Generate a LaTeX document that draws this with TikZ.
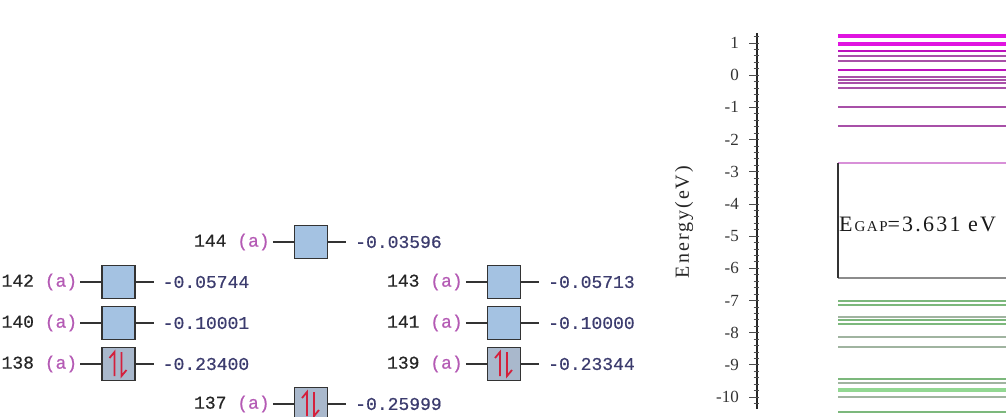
\documentclass[tikz,border=0pt]{standalone}
\usepackage{fontspec}
\setmainfont{Liberation Serif}
\newfontfamily\monof[FakeBold=0.6]{Liberation Mono}
\newfontfamily\serifls[LetterSpace=10]{Liberation Serif}
\usetikzlibrary{calc}
\definecolor{boxfill}{HTML}{A4C2E2}
\definecolor{occfill}{HTML}{A9B8CC}
\definecolor{apurple}{HTML}{B45AB4}
\definecolor{valcol}{HTML}{3C3C6E}
\definecolor{spincol}{HTML}{D4203C}
\definecolor{magb}{HTML}{E014E0}
\definecolor{magd}{HTML}{A850A8}
\definecolor{magp}{HTML}{D890D8}
\definecolor{grn}{HTML}{92D892}
\definecolor{grng}{HTML}{A0B4A0}
\begin{document}
\begin{tikzpicture}[x=1pt,y=1pt,
  orb/.style={draw=black!80, line width=1.2pt, fill=boxfill, minimum width=33pt, minimum height=33pt, inner sep=0pt},
  occ/.style={orb, fill=occfill},
  lab/.style={font=\monof\fontsize{18}{18}\selectfont, text=black!85, inner xsep=3pt, inner ysep=0pt, anchor=east},
  val/.style={font=\monof\fontsize{18}{18}\selectfont, text=valcol, inner xsep=9pt, inner ysep=0pt, anchor=west},
  conn/.style={draw=black!80, line width=1.3pt},
  spin/.style={draw=spincol, line width=1.8pt},
  axisl/.style={draw=black!85, line width=1.2pt},
  tickl/.style={draw=black!70, line width=0.8pt},
  ticklab/.style={font=\fontsize{17}{17}\selectfont, text=black!80, anchor=east, inner sep=0pt},
  mthick/.style={draw=magb, line width=4pt},
  mmed/.style={draw=magb!85!black, line width=2.5pt},
  mthin/.style={draw=magd, line width=1.6pt},
  mpink/.style={draw=magp, line width=1.5pt},
  gthick/.style={draw=grn, line width=4pt},
  gmed/.style={draw=grn!85!black, line width=2pt},
  gthin/.style={draw=grng, line width=1.4pt},
  ggray/.style={draw=black!45, line width=1.5pt},
  gapside/.style={draw=black!80, line width=1.8pt}
]
\useasboundingbox (0,0) rectangle (1006,416);

% ---------- MO levels ----------
\foreach \cx/\cy/\n/\v/\s in {118.5/134/142/-0.05744/orb, 118.5/93/140/-0.10001/orb, 118.5/52/138/-0.23400/occ,
  311/174/144/-0.03596/orb, 311/12/137/-0.25999/occ,
  504/134/143/-0.05713/orb, 504/93/141/-0.10000/orb, 504/52/139/-0.23344/occ}{
  \node[\s] (b\n) at (\cx,\cy) {};
  \node[lab] (l\n) at ([xshift=-21pt]b\n.west) {\n~\textcolor{apurple}{(a)}};
  \node[val] (v\n) at ([xshift=18pt]b\n.east) {\v};
  \draw[conn] (l\n) -- (b\n);
  \draw[conn] (b\n) -- (v\n);
}
\foreach \n in {138,139,137}{
  \draw[spin] ([xshift=-4pt,yshift=-12pt]b\n.center) -- ++(0,24) -- ++(-5,-6);
  \draw[spin] ([xshift=3pt,yshift=12pt]b\n.center) -- ++(0,-24) -- ++(5,6);
}

% ---------- energy axis ----------
\draw[axisl] (757,7) -- (757,383);
\foreach \i in {0,...,57}{
  \draw[tickl] (753.5,{340.8+32.18*(-10.2+0.2*\i)}) -- (758.5,{340.8+32.18*(-10.2+0.2*\i)});
}
\foreach \e in {1,0,-1,-2,-3,-4,-5,-6,-7,-8,-9,-10}{
  \draw[tickl] (749,{340.8+32.18*\e}) -- (758.5,{340.8+32.18*\e});
  \node[ticklab] at (739,{340.8+32.18*\e}) {\e};
}
\node[rotate=90, font=\serifls\fontsize{20}{20}\selectfont, text=black!85] (elab) at (684,194) {Energy(eV)};

% ---------- orbital energy lines ----------
\foreach \yy/\st in {36/mthick, 44/mthick, 51/mmed, 56/mthin, 61/mthin, 70/mmed, 77/mthin, 80/mthin, 83/mthin, 88/mthin, 107/mthin, 126/mthin,
  163/mpink, 278/ggray,
  301/gmed, 305/gmed, 317/gthin, 320/gmed, 324/gmed, 337/gthin, 347/gthin, 379/gmed, 383/gthin, 390/gthick, 397/gthin, 412/gmed}{
  \draw[\st] (838,{416-\yy}) -- (1006,{416-\yy});
}
\draw[gapside] (838,253) -- (838,138);
\node[anchor=west, inner sep=0pt, text=black!90] (gap) at (839,191.5)
  {\serifls\fontsize{22}{22}\selectfont E\hspace{2pt}{\fontsize{15}{15}\selectfont GAP}=3.631 eV};
\end{tikzpicture}
\end{document}
